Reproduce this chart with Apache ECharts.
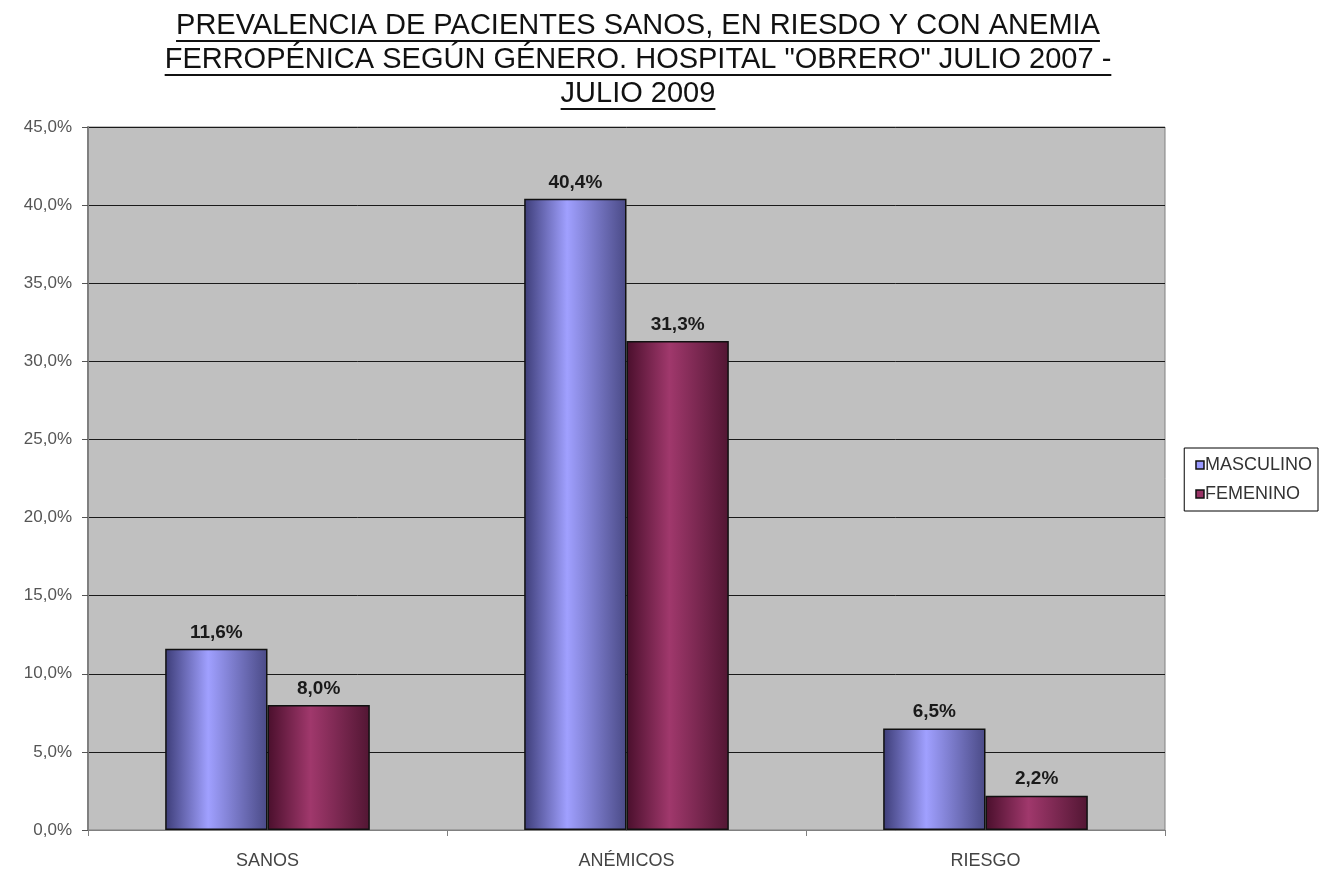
<!DOCTYPE html>
<html>
<head>
<meta charset="utf-8">
<script src="https://cdn.jsdelivr.net/npm/echarts@6/dist/echarts.min.js"></script>
<style>
  html, body { margin: 0; padding: 0; background: #ffffff; }
  #chart { width: 1319px; height: 874px; }
</style>
</head>
<body>
<div id="chart"></div>
<script>
// Categories and prevalence values (%) by gender
const categories = ['SANOS', 'ANÉMICOS', 'RIESGO'];
const masculino = [11.6, 40.4, 6.5];
const femenino = [8.0, 31.3, 2.2];
const seriesNames = ['MASCULINO', 'FEMENINO'];
const titleLines = [
  'PREVALENCIA DE PACIENTES SANOS, EN RIESDO Y CON ANEMIA',
  'FERROPÉNICA SEGÚN GÉNERO. HOSPITAL "OBRERO" JULIO 2007 -',
  'JULIO 2009'
];

const FONT = '"Liberation Sans", Arial, sans-serif';
const fmtPct = v => v.toFixed(1).replace('.', ',') + '%';

const chart = echarts.init(document.getElementById('chart'));

// Title lines with underlines (ECharts text has no underline option)
const titleSize = 29, titleLead = 34, titleCenterX = 638, titleTop = 9;
const measure = document.createElement('canvas').getContext('2d');
measure.font = titleSize + 'px ' + FONT;
const titleGraphics = [];
titleLines.forEach((line, i) => {
  const cy = titleTop + titleLead * i + titleLead / 2;
  titleGraphics.push({
    type: 'text',
    x: titleCenterX, y: cy,
    style: {
      text: line, font: titleSize + 'px ' + FONT, fill: '#111',
      textAlign: 'center', textVerticalAlign: 'middle'
    }
  });
  const w = measure.measureText(line).width;
  titleGraphics.push({
    type: 'line',
    shape: { x1: titleCenterX - w / 2, y1: cy + 15, x2: titleCenterX + w / 2, y2: cy + 15 },
    style: { stroke: '#111', lineWidth: 2 }
  });
});

function barGradient(edgeL, mid, edgeR) {
  return new echarts.graphic.LinearGradient(0, 0, 1, 0, [
    { offset: 0, color: edgeL },
    { offset: 0.42, color: mid },
    { offset: 1, color: edgeR }
  ]);
}

const labelCfg = {
  show: true, position: 'top', distance: 7,
  fontFamily: FONT, fontWeight: 'bold', fontSize: 19, color: '#1a1a1a',
  formatter: p => fmtPct(p.value)
};

chart.setOption({
  animation: false,
  backgroundColor: '#ffffff',
  graphic: titleGraphics,
  grid: {
    left: 88, right: 154, top: 127, bottom: 44,
    show: true, backgroundColor: '#c0c0c0', borderColor: '#808080', borderWidth: 1
  },
  legend: {
    orient: 'vertical', right: 1, top: 448,
    data: seriesNames,
    icon: 'rect', itemWidth: 8, itemHeight: 8, itemGap: 11,
    padding: [8, 6, 8, 11],
    borderColor: '#000', borderWidth: 1, backgroundColor: '#ffffff',
    textStyle: { fontFamily: FONT, fontSize: 18, color: '#333', padding: [0, 0, 0, -4] }
  },
  xAxis: {
    type: 'category', data: categories,
    axisLine: { lineStyle: { color: '#808080', width: 1 } },
    axisTick: { show: true, length: 6, lineStyle: { color: '#808080' } },
    axisLabel: { fontFamily: FONT, fontSize: 18, color: '#444', margin: 22 }
  },
  yAxis: {
    type: 'value', min: 0, max: 45, interval: 5,
    axisLine: { show: true, lineStyle: { color: '#808080', width: 2 } },
    axisTick: { show: true, length: 6, lineStyle: { color: '#555' } },
    splitLine: { lineStyle: { color: '#1a1a1a', width: 1 } },
    axisLabel: { fontFamily: FONT, fontSize: 17, color: '#555', margin: 16, formatter: fmtPct }
  },
  series: [
    {
      name: seriesNames[0], type: 'bar', data: masculino,
      barGap: '0%', barCategoryGap: '43%',
      itemStyle: {
        color: barGradient('#3d3d78', '#a0a0ff', '#4a4a86'),
        borderColor: '#111', borderWidth: 1.5
      },
      label: labelCfg
    },
    {
      name: seriesNames[1], type: 'bar', data: femenino,
      itemStyle: {
        color: barGradient('#4a0f2c', '#a0386c', '#521633'),
        borderColor: '#111', borderWidth: 1.5
      },
      label: labelCfg
    }
  ]
});

// legend swatches use the flat series colours
chart.setOption({
  legend: {
    data: [
      { name: seriesNames[0], itemStyle: { color: '#9999ff', borderColor: '#111', borderWidth: 1.5 } },
      { name: seriesNames[1], itemStyle: { color: '#993366', borderColor: '#111', borderWidth: 1.5 } }
    ]
  }
});
</script>
</body>
</html>
